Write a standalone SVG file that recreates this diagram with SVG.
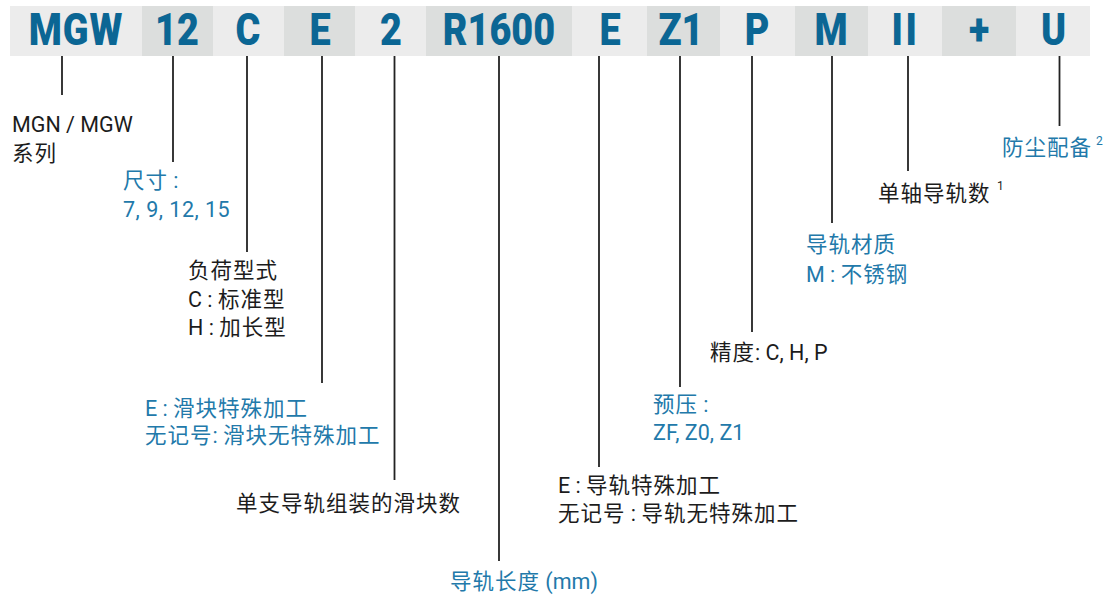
<svg xmlns="http://www.w3.org/2000/svg" width="1112" height="598" viewBox="0 0 1112 598">
<style>
.l{fill:#ececec}
.d{fill:#dcdedd}
.h{font-family:Roboto,"Liberation Sans",sans-serif;font-weight:900;font-size:44px;fill:#0b6694;text-anchor:middle}
.t{font-family:Roboto,"Noto Sans CJK SC",sans-serif;font-size:21.5px;fill:#1c1c1c}
.k{letter-spacing:1px}
.b{fill:#2279aa}
.s{font-size:12px}
.c line{stroke:#222;stroke-width:1.8}
</style>
<rect x="0" y="0" width="1112" height="598" fill="#fff"/>
<g id="header">
<rect class="l" x="10" y="6" width="132" height="50"/>
<rect class="d" x="142" y="6" width="71" height="50"/>
<rect class="l" x="213" y="6" width="71" height="50"/>
<rect class="d" x="284" y="6" width="71" height="50"/>
<rect class="l" x="355" y="6" width="71" height="50"/>
<rect class="d" x="426" y="6" width="146" height="50"/>
<rect class="l" x="572" y="6" width="75" height="50"/>
<rect class="d" x="647" y="6" width="73" height="50"/>
<rect class="l" x="720" y="6" width="75" height="50"/>
<rect class="d" x="795" y="6" width="73" height="50"/>
<rect class="l" x="868" y="6" width="74" height="50"/>
<rect class="d" x="942" y="6" width="74" height="50"/>
<rect class="l" x="1016" y="6" width="74" height="50"/>
<text class="h" transform="translate(76,44.5) scale(0.86,1)" letter-spacing="1">MGW</text>
<text class="h" transform="translate(177,44.5) scale(0.86,1)">12</text>
<text class="h" transform="translate(248,44.5) scale(0.86,1)">C</text>
<text class="h" transform="translate(320,44.5) scale(0.86,1)">E</text>
<text class="h" transform="translate(391,44.5) scale(0.86,1)">2</text>
<text class="h" transform="translate(499,44.5) scale(0.86,1)">R1600</text>
<text class="h" transform="translate(610,44.5) scale(0.86,1)">E</text>
<text class="h" transform="translate(681,44.5) scale(0.86,1)">Z1</text>
<text class="h" transform="translate(757,44.5) scale(0.86,1)">P</text>
<text class="h" transform="translate(831,44.5) scale(0.86,1)">M</text>
<text class="h" transform="translate(905.5,44.5) scale(0.86,1)" letter-spacing="3">II</text>
<text class="h" transform="translate(979,44.5) scale(0.86,1)">+</text>
<text class="h" transform="translate(1053.5,44.5) scale(0.86,1)">U</text>
</g>
<g id="connectors" class="c">
<line x1="62" y1="56" x2="62" y2="95"/>
<line x1="173" y1="56" x2="173" y2="162"/>
<line x1="247" y1="56" x2="247" y2="252"/>
<line x1="322" y1="56" x2="322" y2="383"/>
<line x1="394.5" y1="56" x2="394.5" y2="480"/>
<line x1="499" y1="56" x2="499" y2="561"/>
<line x1="599" y1="56" x2="599" y2="467"/>
<line x1="680" y1="56" x2="680" y2="387"/>
<line x1="752" y1="56" x2="752" y2="332"/>
<line x1="832" y1="56" x2="832" y2="223"/>
<line x1="908" y1="56" x2="908" y2="171"/>
<line x1="1059.5" y1="56" x2="1059.5" y2="126"/>
</g>
<g id="n-series"><text class="t" x="12" y="132">MGN / MGW</text><text class="t k" x="12" y="161">系列</text></g>
<g id="n-size"><text class="t b" x="123" y="188"><tspan class="k">尺寸</tspan> :</text><text class="t b" x="123" y="217" letter-spacing="0.5">7, 9, 12, 15</text></g>
<g id="n-load"><text class="t k" x="188" y="278">负荷型式</text><text class="t" x="188" y="307">C : <tspan class="k">标准型</tspan></text><text class="t" x="188" y="335">H : <tspan class="k">加长型</tspan></text></g>
<g id="n-block"><text class="t b" x="145" y="416">E : <tspan class="k">滑块特殊加工</tspan></text><text class="t b" x="145" y="443"><tspan class="k">无记号</tspan>: <tspan class="k">滑块无特殊加工</tspan></text></g>
<g id="n-count"><text class="t k" x="236" y="511">单支导轨组装的滑块数</text></g>
<g id="n-length"><text class="t b" x="450" y="589"><tspan class="k">导轨长度</tspan> (mm)</text></g>
<g id="n-rail"><text class="t" x="558" y="493">E : <tspan class="k">导轨特殊加工</tspan></text><text class="t" x="558" y="521"><tspan class="k">无记号</tspan> : <tspan class="k">导轨无特殊加工</tspan></text></g>
<g id="n-preload"><text class="t b" x="653" y="412"><tspan class="k">预压</tspan> :</text><text class="t b" x="653" y="440">ZF, Z0, Z1</text></g>
<g id="n-accuracy"><text class="t" x="710" y="360"><tspan class="k">精度</tspan>: C, H, P</text></g>
<g id="n-material"><text class="t b k" x="806" y="252">导轨材质</text><text class="t b" x="806" y="282">M : <tspan class="k">不锈钢</tspan></text></g>
<g id="n-axis"><text class="t k" x="878" y="201">单轴导轨数</text><text class="t s" x="997" y="190">1</text></g>
<g id="n-dust"><text class="t b k" x="1002" y="155">防尘配备</text><text class="t b s" x="1096" y="145">2</text></g>
</svg>
